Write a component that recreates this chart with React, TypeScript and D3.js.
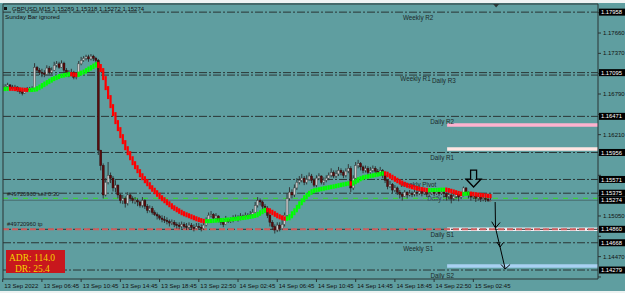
import React from "react";
import * as d3 from "d3";

const W = 625;
const H = 293;

const timeLabels = ["13 Sep 2022", "13 Sep 06:45", "13 Sep 10:45", "13 Sep 14:45", "13 Sep 18:45", "13 Sep 22:50", "14 Sep 02:45", "14 Sep 06:45", "14 Sep 10:45", "14 Sep 14:45", "14 Sep 18:45", "14 Sep 22:50", "15 Sep 02:45"];
const barsPerLabel = 16;

const priceTicks = [1.1418, 1.1447, 1.1476, 1.1505, 1.1534, 1.1563, 1.1592, 1.1621, 1.165, 1.1679, 1.1708, 1.1737, 1.1766, 1.1795];

// prices in pips (x 10000)
const firstOpen = 11687;
const closes = [
  11689, 11690, 11692, 11689, 11687, 11689, 11685, 11682, 11680, 11685,
  11686, 11685, 11687, 11717, 11713, 11710, 11709, 11707, 11716, 11710,
  11713, 11720, 11722, 11717, 11723, 11713, 11710, 11707, 11710, 11703,
  11707, 11722, 11727, 11730, 11732, 11729, 11733, 11730, 11727, 11599,
  11577, 11535, 11553, 11563, 11559, 11545, 11549, 11535, 11527, 11530,
  11523, 11535, 11530, 11527, 11527, 11525, 11520, 11527, 11519, 11513,
  11516, 11510, 11507, 11505, 11502, 11500, 11499, 11497, 11495, 11496,
  11493, 11492, 11490, 11493, 11490, 11489, 11492, 11489, 11487, 11490,
  11489, 11487, 11492, 11499, 11506, 11507, 11502, 11505, 11499, 11496,
  11493, 11500, 11497, 11499, 11502, 11503, 11500, 11505, 11503, 11506,
  11505, 11507, 11510, 11520, 11527, 11525, 11519, 11516, 11506, 11496,
  11490, 11485, 11492, 11487, 11493, 11506, 11530, 11539, 11535, 11545,
  11553, 11556, 11559, 11553, 11557, 11562, 11556, 11549, 11559, 11562,
  11553, 11556, 11559, 11563, 11567, 11562, 11565, 11570, 11567, 11563,
  11569, 11573, 11545, 11559, 11577, 11580, 11575, 11570, 11573, 11567,
  11570, 11573, 11569, 11566, 11570, 11563, 11556, 11547, 11550, 11542,
  11545, 11539, 11536, 11533, 11539, 11535, 11537, 11536, 11539, 11537,
  11540, 11537, 11539, 11536, 11537, 11539, 11537, 11539, 11537, 11539,
  11537, 11533, 11535, 11530, 11533, 11536, 11532, 11535, 11545, 11539,
  11535, 11532, 11533, 11530, 11532, 11529, 11530, 11529, 11527, 11527,
];
const highs = [
  11693, 11693, 11695, 11693, 11692, 11692, 11690, 11686, 11685, 11687,
  11689, 11689, 11690, 11723, 11719, 11716, 11715, 11713, 11720, 11719,
  11717, 11725, 11726, 11725, 11727, 11725, 11716, 11713, 11715, 11712,
  11710, 11726, 11732, 11733, 11735, 11735, 11736, 11735, 11732, 11729,
  11599, 11580, 11559, 11582, 11567, 11562, 11556, 11550, 11537, 11535,
  11533, 11539, 11537, 11533, 11532, 11530, 11527, 11532, 11529, 11522,
  11520, 11519, 11513, 11510, 11507, 11506, 11505, 11503, 11500, 11500,
  11499, 11496, 11496, 11497, 11496, 11495, 11496, 11495, 11493, 11495,
  11495, 11493, 11496, 11503, 11510, 11512, 11509, 11509, 11506, 11502,
  11499, 11505, 11502, 11503, 11506, 11507, 11506, 11509, 11507, 11510,
  11509, 11512, 11515, 11525, 11532, 11530, 11527, 11522, 11519, 11509,
  11499, 11493, 11496, 11496, 11499, 11510, 11537, 11546, 11543, 11550,
  11559, 11562, 11565, 11562, 11563, 11567, 11565, 11559, 11563, 11566,
  11563, 11560, 11563, 11567, 11573, 11570, 11570, 11575, 11573, 11570,
  11573, 11579, 11576, 11563, 11582, 11585, 11582, 11577, 11577, 11576,
  11575, 11577, 11576, 11572, 11575, 11572, 11565, 11557, 11555, 11552,
  11549, 11547, 11542, 11539, 11542, 11540, 11542, 11540, 11542, 11542,
  11543, 11542, 11542, 11540, 11542, 11542, 11542, 11542, 11542, 11542,
  11542, 11539, 11539, 11536, 11537, 11540, 11537, 11539, 11547, 11546,
  11540, 11536, 11537, 11535, 11536, 11533, 11535, 11533, 11532, 11532,
];
const lows = [
  11686, 11686, 11687, 11686, 11685, 11685, 11682, 11679, 11677, 11679,
  11682, 11682, 11683, 11686, 11709, 11706, 11703, 11703, 11706, 11707,
  11707, 11712, 11717, 11715, 11716, 11710, 11706, 11703, 11705, 11700,
  11700, 11706, 11720, 11725, 11727, 11725, 11727, 11726, 11723, 11592,
  11570, 11530, 11533, 11550, 11552, 11540, 11539, 11530, 11523, 11522,
  11517, 11520, 11526, 11523, 11522, 11519, 11517, 11517, 11515, 11509,
  11510, 11507, 11505, 11500, 11499, 11496, 11495, 11493, 11490, 11492,
  11489, 11487, 11486, 11487, 11487, 11485, 11486, 11485, 11483, 11486,
  11485, 11483, 11485, 11490, 11497, 11503, 11499, 11499, 11496, 11492,
  11489, 11492, 11495, 11495, 11496, 11499, 11497, 11499, 11500, 11502,
  11502, 11503, 11506, 11509, 11517, 11520, 11515, 11510, 11502, 11490,
  11485, 11480, 11482, 11483, 11485, 11490, 11503, 11527, 11530, 11532,
  11542, 11550, 11553, 11549, 11550, 11555, 11552, 11546, 11546, 11556,
  11550, 11549, 11553, 11556, 11560, 11559, 11559, 11562, 11563, 11559,
  11560, 11566, 11539, 11542, 11556, 11573, 11570, 11566, 11567, 11563,
  11565, 11567, 11565, 11562, 11563, 11559, 11552, 11543, 11545, 11537,
  11539, 11535, 11530, 11527, 11532, 11530, 11533, 11532, 11533, 11533,
  11535, 11533, 11535, 11532, 11533, 11535, 11533, 11535, 11533, 11535,
  11532, 11527, 11529, 11523, 11527, 11530, 11526, 11529, 11533, 11536,
  11530, 11527, 11529, 11525, 11527, 11525, 11526, 11525, 11525, 11526,
];
const maValues = [
  11686.0, 11686.3, 11686.6, 11686.4, 11686.3, 11686.0, 11685.7, 11685.4, 11685.1, 11684.9,
  11684.6, 11684.7, 11685.0, 11685.6, 11687.4, 11689.6, 11691.7, 11693.9, 11696.0, 11698.1,
  11700.3, 11701.7, 11703.1, 11704.6, 11705.3, 11706.0, 11706.7, 11707.4, 11707.0, 11706.6,
  11706.1, 11708.1, 11709.6, 11711.0, 11713.1, 11715.3, 11717.4, 11719.6, 11721.7, 11718.9,
  11713.1, 11701.7, 11687.4, 11674.6, 11661.7, 11650.3, 11638.9, 11628.9, 11618.9, 11610.3,
  11601.7, 11594.6, 11587.4, 11580.3, 11574.6, 11568.9, 11563.1, 11558.9, 11554.6, 11550.3,
  11546.0, 11542.4, 11538.9, 11535.3, 11531.7, 11528.9, 11526.0, 11523.1, 11520.3, 11517.4,
  11515.3, 11513.1, 11511.0, 11508.9, 11507.4, 11506.0, 11504.6, 11503.1, 11501.7, 11500.3,
  11499.1, 11498.1, 11497.4, 11497.6, 11497.7, 11498.0, 11498.3, 11498.6, 11498.9, 11499.1,
  11499.4, 11499.7, 11500.0, 11500.3, 11500.7, 11501.1, 11501.6, 11502.0, 11502.4, 11503.0,
  11503.6, 11504.3, 11505.0, 11506.0, 11508.1, 11510.3, 11512.4, 11513.9, 11513.1, 11511.0,
  11508.9, 11506.7, 11504.6, 11503.1, 11501.7, 11501.0, 11501.7, 11504.6, 11508.9, 11513.1,
  11518.1, 11523.1, 11527.4, 11531.7, 11535.3, 11538.1, 11540.3, 11541.7, 11542.4, 11543.1,
  11543.9, 11544.6, 11545.3, 11546.0, 11546.7, 11547.4, 11548.1, 11548.9, 11549.6, 11550.3,
  11551.0, 11551.7, 11551.0, 11553.1, 11555.3, 11557.4, 11558.9, 11560.3, 11561.0, 11561.7,
  11562.4, 11563.1, 11563.9, 11564.6, 11565.3, 11566.0, 11565.3, 11563.1, 11561.0, 11558.9,
  11556.7, 11554.6, 11552.7, 11551.0, 11549.6, 11548.1, 11547.0, 11546.0, 11545.0, 11544.1,
  11543.4, 11542.9, 11542.3, 11541.7, 11541.9, 11542.0, 11542.1, 11542.3, 11542.4, 11542.6,
  11542.7, 11542.0, 11541.0, 11540.0, 11538.9, 11537.9, 11537.0, 11536.3, 11536.6, 11536.9,
  11537.0, 11536.6, 11536.0, 11535.6, 11535.1, 11534.7, 11534.3, 11533.9, 11533.4, 11533.1,
];

const levelNames = ["Weekly R2", "Weekly R1", "Daily R3", "Daily R2", "Daily R1", "Weekly Pivot", "Daily Pivot", "Daily S1", "Weekly S1", "Daily S2"];
const levelPrices = [1.17958, 1.17095, 1.1706, 1.16471, 1.15956, 1.15571, 1.15375, 1.1486, 1.14668, 1.14279];
const levelBoxed = [true, true, false, true, true, true, true, true, true, true];
// label anchor (bar index) for each level label
const levelLabelBars = [169.5, 168.4, 180.0, 179.3, 179.3, 169.5, 179.3, 179.3, 169.5, 179.3];

const zonePrices = [1.16348, 1.16006, 1.1486, 1.14337];
const zoneColors = ["#ffb2cf", "#ffe6e3", "#f2eef3", "#a9d1f2"];
const zoneStartBar = 181.3;

const orderOpenPrice = 1.153;
const takeProfitPrice = 1.1486;
const bidPrice = 1.15274;
const orderLabel = "#49720960 sell 0.30";
const tpLabel = "#49720960 tp";
const headerText = "GBPUSD,M15  1.15289 1.15318 1.15272 1.15274";
const adrText = "ADR: 114.0";
const drText = "DR: 25.4";

const arrowTipBar = 192.1;
const arrowTipPrice = 1.15463;
const drawnPath: [number, number][] = [[200.9, 1.15249], [201.05, 1.14879], [202.9, 1.14608], [205.0, 1.14294]];
const drawnHeads: [number, number][][] = [
  [[199.5, 1.14969], [201.05, 1.14879], [202.9, 1.14957]],
  [[201.6, 1.14679], [202.9, 1.14608], [204.3, 1.14672]],
  [[203.3, 1.14358], [205.0, 1.14294], [207.0, 1.14358]],
];
const shiftMarkerBar = 201.3;

const FONT = "'Liberation Sans', Arial, sans-serif";

export default function App() {
  const left = 3, right = 598, top = 4, bottom = 279;
  const X = d3.scaleLinear().domain([0, barsPerLabel]).range([2.7, 2.7 + 39.22]);
  const Y = d3.scaleLinear().domain([1.14151, 1.18074]).range([bottom, top]);
  const pp = (v: number) => v / 10000;
  const line = d3.line<[number, number]>().x((d) => X(d[0])).y((d) => Y(d[1]));

  const candles = closes.map((c, i) => {
    const o = i === 0 ? firstOpen : closes[i - 1];
    const h = Math.max(highs[i], o, c);
    const l = Math.min(lows[i], o, c);
    return { i, o: pp(o), c: pp(c), h: pp(h), l: pp(l) };
  });

  const maBlocks = maValues.map((m, i) => {
    const yc = Y(pp(m));
    const yp = i > 0 ? Y(pp(maValues[i - 1])) : yc;
    const rising = i === 0 || m >= maValues[i - 1];
    const y0 = Math.min(yc, yp) - 2;
    const y1 = Math.max(yc, yp) + 2;
    return { i, y0, y1, color: rising ? "#00ff00" : "#ff0000" };
  });

  const boxedPrices = [...levelPrices.filter((_, k) => levelBoxed[k]), bidPrice];
  const visibleTicks = priceTicks.filter((p) => boxedPrices.every((b) => Math.abs(Y(p) - Y(b)) > 7.5));

  const dashDot = "8,2,2,2";

  return (
    <svg width={W} height={H} style={{ position: "absolute", left: 0, top: 0, display: "block" }} fontFamily={FONT}>
      <defs>
        <clipPath id="plot">
          <rect x={left} y={top} width={right - left} height={bottom - top} />
        </clipPath>
      </defs>
      <rect x={0} y={0} width={W} height={H} fill="#5f9ea0" />
      <rect x={0} y={0} width={W} height={3} fill="#eef2f2" />
      <rect x={0} y={291} width={W} height={2} fill="#eef2f2" />

      <g clipPath="url(#plot)">
        {zonePrices.map((p, k) => (
          <line key={"z" + k} x1={X(zoneStartBar)} x2={right} y1={Y(p)} y2={Y(p)} stroke={zoneColors[k]} strokeWidth={3.5} />
        ))}
        {levelPrices.map((p, k) => (
          <line key={"l" + k} x1={left} x2={right} y1={Y(p)} y2={Y(p)} stroke="#2a3434" strokeWidth={1} strokeDasharray={dashDot} />
        ))}
        {levelNames.map((n, k) => (
          <text key={"ln" + k} x={X(levelLabelBars[k])} y={Y(levelPrices[k]) + 8} fontSize={6.3} fill="#1c2a2a" textAnchor="middle">
            {n}
          </text>
        ))}
        <line x1={left} x2={right} y1={Y(orderOpenPrice)} y2={Y(orderOpenPrice)} stroke="#3fd33f" strokeWidth={1.3} strokeDasharray="5,5" />
        <line x1={left} x2={right} y1={Y(bidPrice)} y2={Y(bidPrice)} stroke="#4a6e70" strokeWidth={1} />
        <line x1={left} x2={right} y1={Y(takeProfitPrice)} y2={Y(takeProfitPrice)} stroke="#cd5c5c" strokeWidth={2} strokeDasharray="6,3" />
        <text x={7} y={Y(orderOpenPrice) - 2} fontSize={5.8} fill="#1a1a1a">{orderLabel}</text>
        <text x={7} y={Y(takeProfitPrice) - 3} fontSize={5.8} fill="#1a1a1a">{tpLabel}</text>

        {candles.map((d) => {
          const cx = X(d.i);
          const bull = d.c >= d.o;
          const yTop = Y(Math.max(d.o, d.c));
          const yBot = Y(Math.min(d.o, d.c));
          return (
            <g key={"c" + d.i}>
              <line x1={cx} x2={cx} y1={Y(d.h)} y2={Y(d.l)} stroke="#2e2e2e" strokeWidth={0.9} />
              <rect x={cx - 1} y={yTop} width={2} height={Math.max(1, yBot - yTop)} fill={bull ? "#c9c9c9" : "#5a0c0c"} stroke={bull ? "#3a3a3a" : "#2a0505"} strokeWidth={0.4} />
            </g>
          );
        })}
        {maBlocks.map((b) => (
          <rect key={"m" + b.i} x={X(b.i) - 1.1} y={b.y0} width={2.2} height={b.y1 - b.y0} fill={b.color} />
        ))}

        {(() => {
          const cx = X(arrowTipBar);
          const ty = Y(arrowTipPrice);
          const d = `M${cx - 3},${ty - 17} h6 v9 h4.5 L${cx},${ty} L${cx - 7.5},${ty - 8} h4.5 Z`;
          return <path d={d} fill="none" stroke="#000" strokeWidth={1.3} strokeLinejoin="miter" />;
        })()}
        <path d={line(drawnPath) || ""} fill="none" stroke="#000" strokeWidth={1} />
        {drawnHeads.map((h, k) => (
          <path key={"h" + k} d={line(h) || ""} fill="none" stroke="#000" strokeWidth={1} />
        ))}

        <rect x={6} y={250} width={59} height={23} fill="#c8171d" />
        <text x={9} y={261} fontSize={9.5} fill="#f4d200" fontFamily="'Liberation Serif', serif">{adrText}</text>
        <text x={15} y={271.5} fontSize={9.5} fill="#f4d200" fontFamily="'Liberation Serif', serif">{drText}</text>
      </g>

      <line x1={left} x2={right} y1={top} y2={top} stroke="#2a3434" strokeWidth={1} />
      <line x1={left} x2={left} y1={top} y2={bottom} stroke="#2a3434" strokeWidth={1} />
      <line x1={right} x2={right} y1={top} y2={bottom} stroke="#2a3434" strokeWidth={1} />
      <line x1={left} x2={right} y1={bottom} y2={bottom} stroke="#2a3434" strokeWidth={1} />
      <path d={`M${X(shiftMarkerBar) - 3},${top} h6 l-3,3.5 Z`} fill="#2a3434" />

      <rect x={4} y={7} width={3} height={3} fill="#111" />
      <text x={12} y={11} fontSize={6} fill="#111">{headerText}</text>
      <text x={5} y={19} fontSize={6.2} fill="#111">Sunday Bar ignored</text>

      {timeLabels.map((t, k) => {
        const xx = X(k * barsPerLabel);
        return (
          <g key={"t" + k}>
            <line x1={xx} x2={xx} y1={bottom} y2={bottom + 3} stroke="#2a3434" strokeWidth={1} />
            <text x={xx + 1.5} y={287.5} fontSize={6} fill="#111">{t}</text>
          </g>
        );
      })}

      {priceTicks.map((p, k) => (
        <line key={"pt" + k} x1={right} x2={right + 3} y1={Y(p)} y2={Y(p)} stroke="#2a3434" strokeWidth={1} />
      ))}
      {visibleTicks.map((p, k) => (
        <text key={"p" + k} x={603} y={Y(p) + 2.1} fontSize={6} fill="#111">{p.toFixed(5)}</text>
      ))}
      {boxedPrices.map((p, k) => (
        <g key={"b" + k}>
          <rect x={599} y={Y(p) - 3.5} width={26} height={7} fill="#000" />
          <text x={601} y={Y(p) + 2.1} fontSize={5.8} fill="#fff">{p.toFixed(5)}</text>
        </g>
      ))}
    </svg>
  );
}
